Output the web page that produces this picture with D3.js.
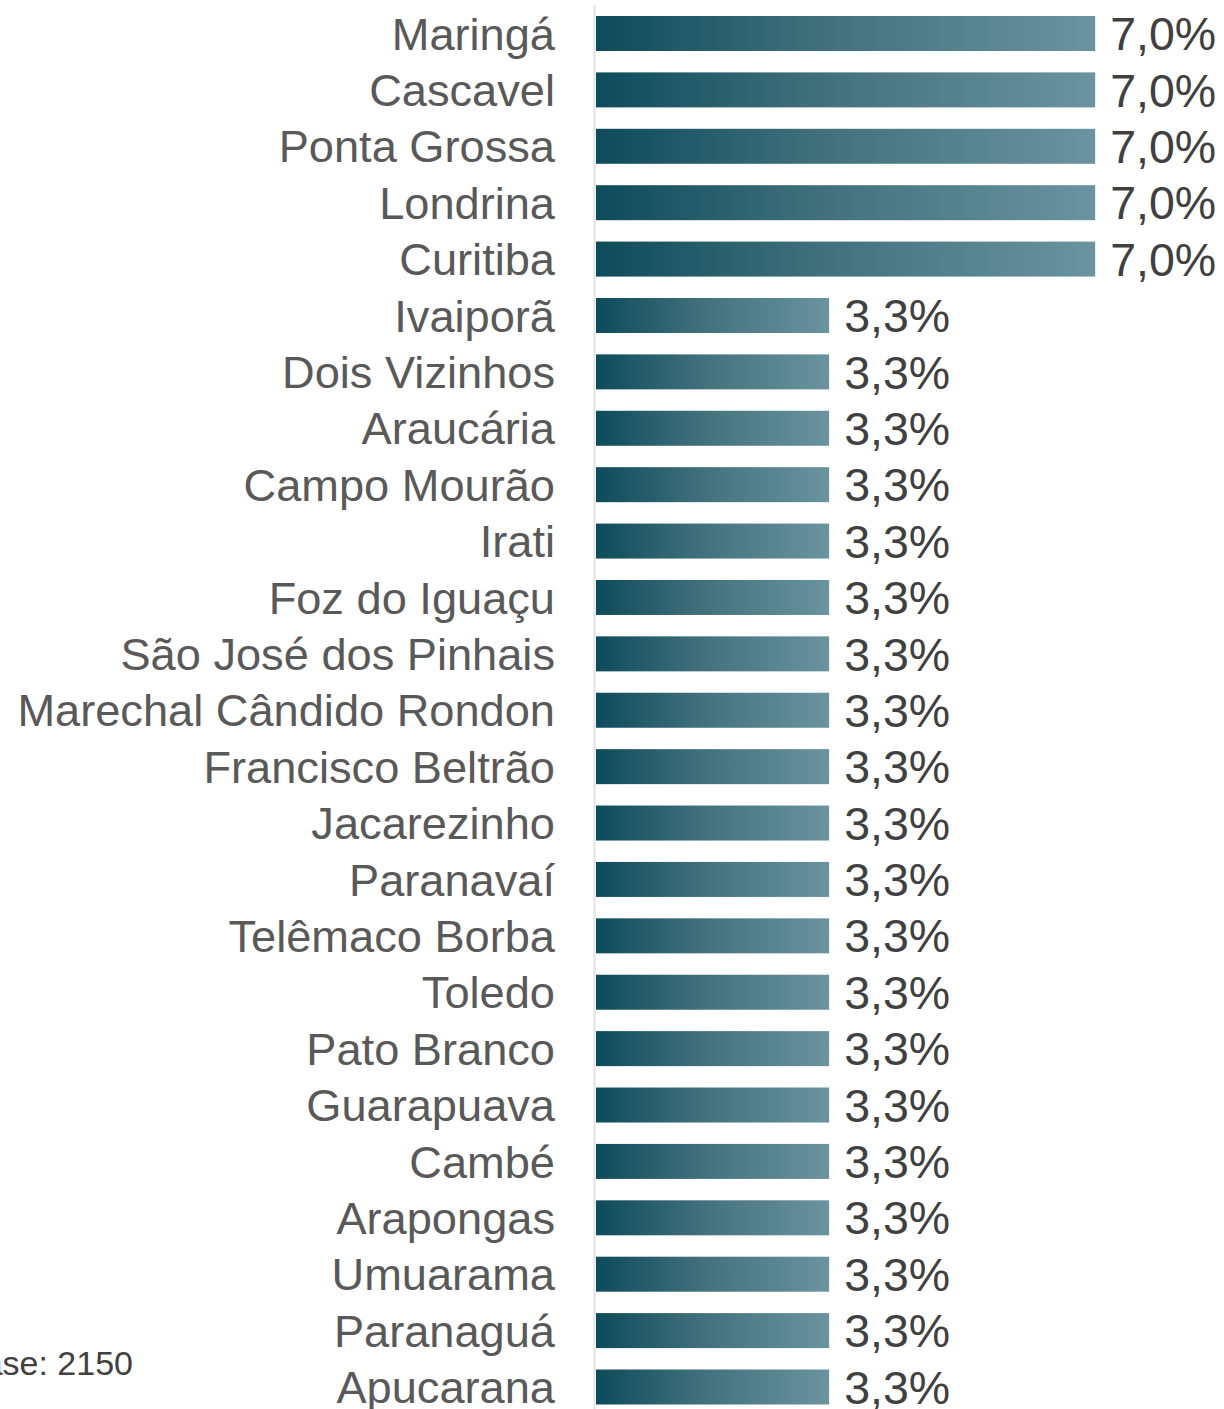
<!DOCTYPE html>
<html>
<head>
<meta charset="utf-8">
<script src="https://cdn.jsdelivr.net/npm/d3@7"></script>
<style>
  html, body { margin: 0; padding: 0; background: #ffffff; }
  svg { display: block; }
</style>
</head>
<body>
<svg id="chart" width="1224" height="1409"></svg>
<script>
// ---- data ----
const categories = [
  "Maringá", "Cascavel", "Ponta Grossa", "Londrina", "Curitiba",
  "Ivaiporã", "Dois Vizinhos", "Araucária", "Campo Mourão", "Irati",
  "Foz do Iguaçu", "São José dos Pinhais", "Marechal Cândido Rondon",
  "Francisco Beltrão", "Jacarezinho", "Paranavaí", "Telêmaco Borba",
  "Toledo", "Pato Branco", "Guarapuava", "Cambé", "Arapongas",
  "Umuarama", "Paranaguá", "Apucarana"
];
const values = [
  6.98, 6.98, 6.98, 6.98, 6.98,
  3.26, 3.26, 3.26, 3.26, 3.26,
  3.26, 3.26, 3.26, 3.26, 3.26,
  3.26, 3.26, 3.26, 3.26, 3.26,
  3.26, 3.26, 3.26, 3.26, 3.26
];
const baseNote = "Base: 2150";

// ---- layout ----
const svg = d3.select("#chart");
const fontFam = "'Liberation Sans', Arial, Helvetica, sans-serif";
const x0 = 596;
const x = d3.scaleLinear().domain([0, 7]).range([x0, x0 + 500.6]);
const y = d3.scalePoint().domain(categories).range([33.5, 1387]);
const barH = 35;

// gradient
const defs = svg.append("defs");
const grad = defs.append("linearGradient")
  .attr("id", "barGrad")
  .attr("x1", "0%").attr("x2", "100%").attr("y1", "0%").attr("y2", "0%");
grad.append("stop").attr("offset", "0%").attr("stop-color", "#0d4b5b");
grad.append("stop").attr("offset", "45%").attr("stop-color", "#41707c");
grad.append("stop").attr("offset", "100%").attr("stop-color", "#6a949f");

// axis line
svg.append("line")
  .attr("x1", 594.5).attr("x2", 594.5)
  .attr("y1", 5).attr("y2", 1409)
  .attr("stroke", "#e2e2e2").attr("stroke-width", 2);

const data = categories.map((c, i) => ({ c, v: values[i] }));

// bars
svg.append("g").selectAll("rect")
  .data(data).join("rect")
  .attr("x", x(0))
  .attr("y", d => y(d.c) - barH / 2)
  .attr("width", d => x(d.v) - x(0))
  .attr("height", barH)
  .attr("fill", "url(#barGrad)");

// category labels
const catFs = 45.2;
svg.append("g").selectAll("text")
  .data(data).join("text")
  .attr("x", 555)
  .attr("y", d => y(d.c) + catFs * 0.358)
  .attr("text-anchor", "end")
  .attr("font-family", fontFam)
  .attr("font-size", catFs)
  .attr("fill", "#595959")
  .text(d => d.c);

// value labels
const valFs = 46.5;
const fmt = v => d3.format(".1f")(v).replace(".", ",") + "%";
svg.append("g").selectAll("text")
  .data(data).join("text")
  .attr("x", d => x(d.v) + 15)
  .attr("y", d => y(d.c) + valFs * 0.358)
  .attr("font-family", fontFam)
  .attr("font-size", valFs)
  .attr("fill", "#404040")
  .text(d => fmt(d.v));

// base note
svg.append("text")
  .attr("x", 133)
  .attr("y", 1375)
  .attr("text-anchor", "end")
  .attr("font-family", fontFam)
  .attr("font-size", 34)
  .attr("fill", "#404040")
  .text(baseNote);
</script>
</body>
</html>
